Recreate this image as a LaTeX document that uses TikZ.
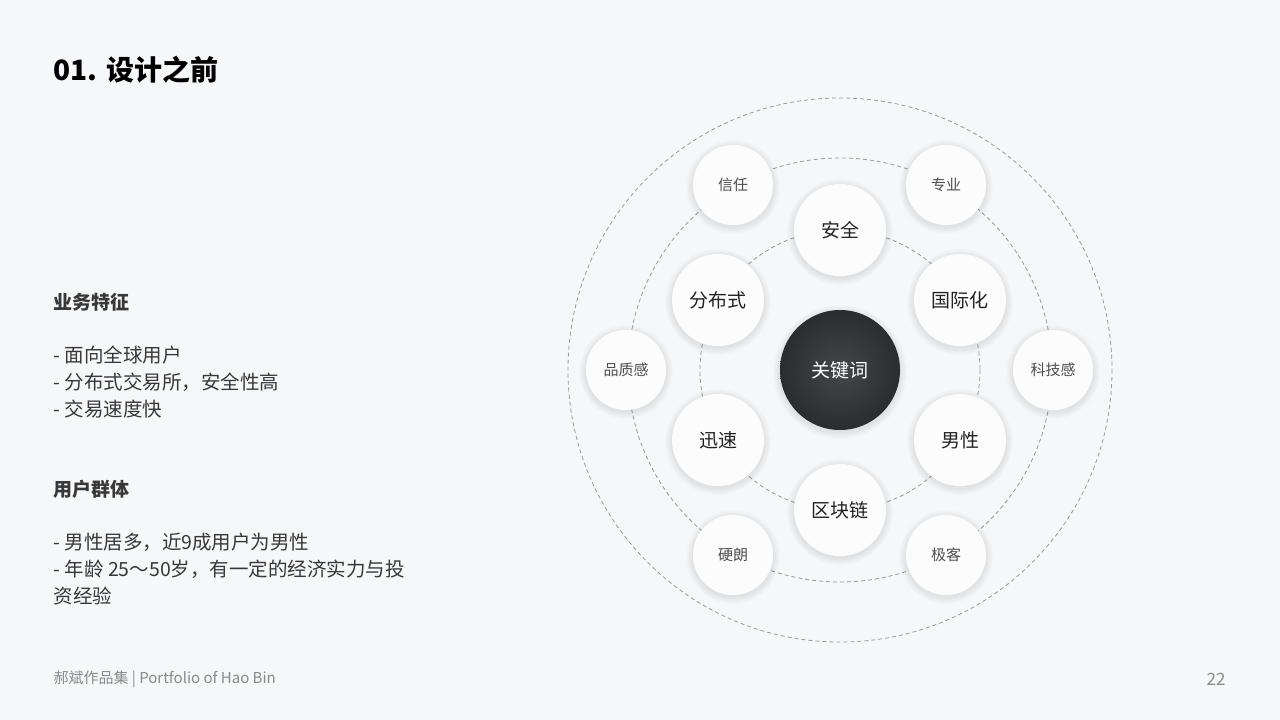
\documentclass[tikz,border=0pt]{standalone}
\usepackage{fontspec}
\setmainfont{Noto Sans CJK SC}
\definecolor{bg}{HTML}{F6F7F9}
\definecolor{txt}{HTML}{222222}
\definecolor{gr}{HTML}{8A8A8A}
\definecolor{dk}{HTML}{2B2C30}
\definecolor{dk2}{HTML}{45464B}
\definecolor{nodefill}{HTML}{FCFCFC}
\tikzset{
  ring/.style={draw=gray!80,dash pattern=on 4pt off 3pt,line width=0.8pt},
  big/.style={circle,fill=nodefill,minimum size=92pt,inner sep=0pt,font=\fontsize{19}{19}\selectfont,text=txt},
  small/.style={circle,fill=nodefill,minimum size=80pt,inner sep=0pt,font=\fontsize{15}{15}\selectfont,text=txt!80},
  body/.style={anchor=west,font=\fontsize{19.5}{27}\selectfont,text=txt!90,align=left}
}
\begin{document}
\begin{tikzpicture}[x=1pt,y=-1pt]
\fill[bg] (0,0) rectangle (1280,720);
\useasboundingbox (0,0) rectangle (1280,720);
\node[anchor=west,font=\bfseries\fontsize{28}{28}\selectfont,text=black] (title) at (50,70) {01. 设计之前};
\node[body,font=\bfseries\fontsize{19}{19}\selectfont] (h1) at (50,302) {业务特征};
\node[body,anchor=north west] (b1) at (50,342) {- 面向全球用户\\- 分布式交易所，安全性高\\- 交易速度快};
\node[body,font=\bfseries\fontsize{19}{19}\selectfont] (h2) at (50,489) {用户群体};
\node[body,anchor=north west] (b2) at (50,529) {- 男性居多，近9成用户为男性\\- 年龄 25～50岁，有一定的经济实力与投\\资经验};
\node[anchor=west,font=\fontsize{15}{15}\selectfont,text=gr] (foot) at (50,679) {郝斌作品集 | Portfolio of Hao Bin};
\node[anchor=east,font=\fontsize{17}{17}\selectfont,text=gr] (pg) at (1229,679) {22};
\coordinate (c) at (840,370);
\draw[ring] (c) circle (272);
\draw[ring] (c) circle (212);
\draw[ring] (c) circle (140);
\foreach \x/\y/\r in {733/185/40,946/185/40,1053/370/40,946/555/40,733/555/40,626/370/40,840/230/46,960/300/46,960/440/46,840/510/46,718/440/46,718/300/46,840/370/60}{
  \foreach \d in {1,...,7}{
    \fill[black,opacity=0.012] (\x,\y+2) circle (\r+\d);
  }
}
\node[small] (n1) at (733,185) {信任};
\node[small] (n2) at (946,185) {专业};
\node[small] (n3) at (1053,370) {科技感};
\node[small] (n4) at (946,555) {极客};
\node[small] (n5) at (733,555) {硬朗};
\node[small] (n6) at (626,370) {品质感};
\node[big] (a1) at (840,230) {安全};
\node[big] (a2) at (960,300) {国际化};
\node[big] (a3) at (960,440) {男性};
\node[big] (a4) at (840,510) {区块链};
\node[big] (a5) at (718,440) {迅速};
\node[big] (a6) at (718,300) {分布式};
\node[circle,minimum size=120pt,inner sep=0pt,inner color=dk2,outer color=dk,text=white,font=\fontsize{19}{19}\selectfont] (k) at (c) {关键词};
\end{tikzpicture}
\end{document}
